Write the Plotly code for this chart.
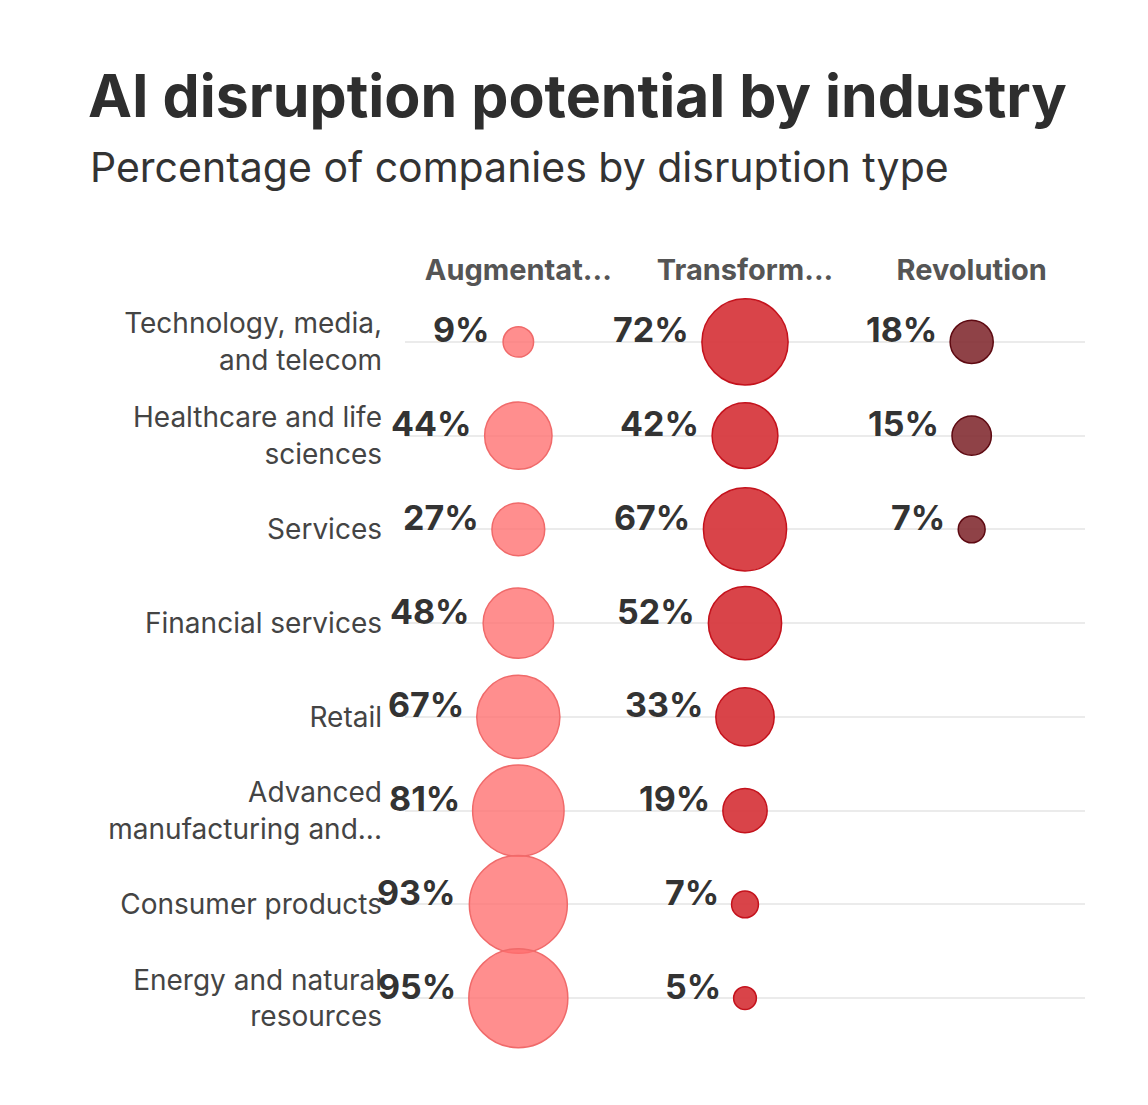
import math
import plotly.graph_objects as go

industries = [
    "Technology, media,<br>and telecom",
    "Healthcare and life<br>sciences",
    "Services",
    "Financial services",
    "Retail",
    "Advanced<br>manufacturing and...",
    "Consumer products",
    "Energy and natural<br>resources",
]
types = ["Augmentat...", "Transform...", "Revolution"]
augmentation = [9, 44, 27, 48, 67, 81, 93, 95]
transformation = [72, 42, 67, 52, 33, 19, 7, 5]
revolution = [18, 15, 7, None, None, None, None, None]

series = [augmentation, transformation, revolution]
fills = ["rgba(255,110,110,0.78)", "rgba(214,52,58,0.92)", "rgba(128,40,46,0.88)"]
lines = ["#f06a6a", "#c4121c", "#5e0a12"]

FONT = "Inter"
MAX_D = 99.0  # pixel diameter of a 95% bubble
MAX_V = 95.0

W, H = 1148, 1105
ML, MR, MT, MB = 405, 63, 295, 60
PW, PH = W - ML - MR, H - MT - MB


def diam(v):
    return MAX_D * math.sqrt(v / MAX_V)


def px_x(x):
    return (x - ML) / PW


def px_y(y):
    return (H - MB - y) / PH


fig = go.Figure()
annotations = []
for col, vals, fc, lc in zip(types, series, fills, lines):
    ys, xs, sz = [], [], []
    for ind, v in zip(industries, vals):
        if v is None:
            continue
        ys.append(ind)
        xs.append(col)
        sz.append(diam(v))
        annotations.append(dict(
            x=col, y=ind, xref="x", yref="y", text=f"{v}%", showarrow=False,
            xanchor="right", yanchor="middle", xshift=-(diam(v) / 2 + 11), yshift=12,
            font=dict(family=FONT, size=34, color="#333333", weight="bold"),
        ))
    fig.add_trace(go.Scatter(
        x=xs, y=ys, mode="markers", cliponaxis=False,
        marker=dict(size=sz, sizemode="diameter", color=fc, opacity=1,
                    line=dict(color=lc, width=1.5)),
        hoverinfo="skip", showlegend=False,
    ))

annotations.append(dict(
    text="Percentage of companies by disruption type", xref="paper", yref="paper",
    x=px_x(88), y=px_y(167), xanchor="left", yanchor="middle", showarrow=False,
    font=dict(family=FONT, size=41, color="#333333"),
))

fig.update_layout(
    width=W, height=H,
    margin=dict(l=ML, r=MR, t=MT, b=MB),
    paper_bgcolor="white", plot_bgcolor="white",
    title=dict(
        text="AI disruption potential by industry", xref="container", yref="container",
        x=88 / W, y=1 - 96 / H, xanchor="left", yanchor="middle",
        font=dict(family=FONT, size=59, color="#2e2e2e", weight="bold"),
    ),
    annotations=annotations,
    xaxis=dict(
        type="category", categoryorder="array", categoryarray=types, side="top",
        range=[-0.5, 2.5], showgrid=False, zeroline=False, showline=False, ticks="",
        tickfont=dict(family=FONT, size=29, color="#555555", weight="bold"),
        ticklabelstandoff=8, fixedrange=True,
    ),
    yaxis=dict(
        type="category", categoryorder="array", categoryarray=industries,
        range=[7.5, -0.5], showgrid=True, gridcolor="#ebebeb", gridwidth=2,
        zeroline=False, showline=False, ticks="",
        tickfont=dict(family=FONT, size=28, color="#444444"),
        ticklabelstandoff=22, fixedrange=True,
    ),
)

fig.write_html("out.html")
